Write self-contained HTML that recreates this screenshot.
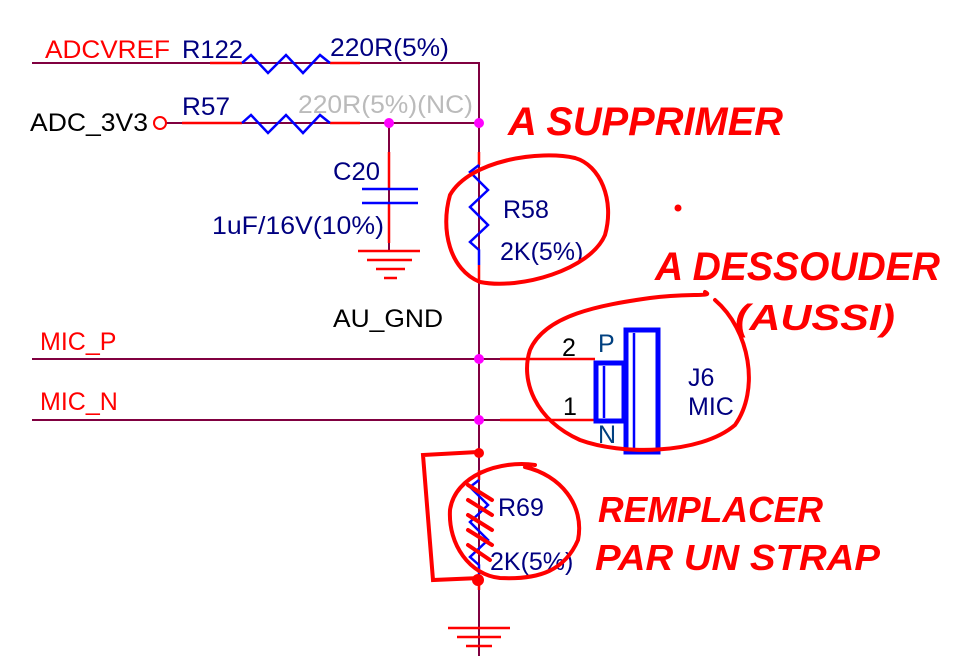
<!DOCTYPE html>
<html><head><meta charset="utf-8"><style>
body{margin:0;background:#fff;width:959px;height:656px;overflow:hidden}
svg{display:block}
text{font-family:"Liberation Sans",sans-serif}
.h{font-family:"Liberation Sans",sans-serif;font-weight:bold;fill:#f00;font-style:italic}
</style></head><body>
<svg width="959" height="656" viewBox="0 0 959 656">
<g stroke="#800040" stroke-width="2" fill="none">
<path d="M32 63H479V656"/>
<path d="M166 123H479"/>
<path d="M389 123V251"/>
<path d="M32 359H595"/>
<path d="M32 420H595"/>
</g>
<g stroke="#f00" stroke-width="2.5" fill="none">
<path d="M210 63H242M330 63H360"/><path d="M182 123H242M330 123H360"/>
<path d="M389 152V189M389 203V243"/>
<path d="M479 152V165M479 265V282"/>
<path d="M479 470V480M479 580V590"/>
<path d="M500 359H595M500 420H595"/>
<path d="M358 251H420M367 260H412M376 269H405M384 278H397"/>
<path d="M448 628H510M457 637H501M466 646H492"/>
</g>
<circle cx="160" cy="123" r="6" fill="none" stroke="#f00" stroke-width="2"/>
<g stroke="#00f" stroke-width="2.5" fill="none">
<path d="M242 63L251 55L268 73L286 55L303 73L320 55L330 63"/>
<path d="M242 123L251 115L268 133L286 115L303 133L320 115L330 123"/>
<path d="M362 189H418M362 203H418"/>
<path d="M479 165L470 172L488 190L470 207L488 225L470 242L479 250V265"/>
<path d="M479 480L470 487L488 505L470 522L488 540L470 557L479 565V580"/>
<rect x="626" y="330" width="32" height="122" stroke-width="5"/>
<rect x="596" y="363" width="28" height="58" stroke-width="5"/>
<path d="M604 366V418M634 333V449"/>
</g>
<g fill="#f0f"><circle cx="389" cy="123" r="5"/><circle cx="479" cy="123" r="5"/><circle cx="479" cy="359" r="5"/><circle cx="479" cy="420" r="5"/></g>
<g font-size="25">
<text x="45" y="58" fill="#f00" textLength="125" lengthAdjust="spacingAndGlyphs">ADCVREF</text>
<text x="182" y="58" fill="#000080" textLength="61" lengthAdjust="spacingAndGlyphs">R122</text>
<text x="330" y="56" fill="#000080" textLength="119" lengthAdjust="spacingAndGlyphs">220R(5%)</text>
<text x="30" y="131" fill="#000" textLength="118" lengthAdjust="spacingAndGlyphs">ADC_3V3</text>
<text x="182" y="115" fill="#000080" textLength="48" lengthAdjust="spacingAndGlyphs">R57</text>
<text x="298" y="113" fill="#bbb" textLength="175" lengthAdjust="spacingAndGlyphs">220R(5%)(NC)</text>
<text x="333" y="180" fill="#000080" textLength="47" lengthAdjust="spacingAndGlyphs">C20</text>
<text x="212" y="234" fill="#000080" textLength="172" lengthAdjust="spacingAndGlyphs">1uF/16V(10%)</text>
<text x="333" y="327" fill="#000" textLength="110" lengthAdjust="spacingAndGlyphs">AU_GND</text>
<text x="503" y="218" fill="#000080">R58</text>
<text x="500" y="260" fill="#000080">2K(5%)</text>
<text x="40" y="350" fill="#f00">MIC_P</text>
<text x="40" y="410" fill="#f00">MIC_N</text>
<text x="562" y="356" fill="#000">2</text>
<text x="563" y="415" fill="#000">1</text>
<text x="598" y="352" fill="#004080">P</text>
<text x="598" y="443" fill="#004080">N</text>
<text x="688" y="386" fill="#000080">J6</text>
<text x="688" y="415" fill="#000080">MIC</text>
<text x="498" y="516" fill="#000080">R69</text>
<text x="490" y="570" fill="#000080">2K(5%)</text>
</g>
<g stroke="#f00" stroke-width="4" fill="none" stroke-linecap="round">
<path d="M575 158C540 150 470 160 450 195C440 230 450 270 480 282C520 290 590 270 605 235C615 200 600 165 575 158"/>
<path d="M715 300C750 330 760 390 735 425C700 455 620 455 580 440C535 420 520 380 530 350C545 315 600 305 650 298C690 293 715 297 705 292"/>
<path d="M535 465C500 460 455 475 450 510C448 545 470 575 500 578C540 580 565 570 578 540C585 505 560 475 525 467"/>
<path d="M478 452L423 455L433 580L480 578"/>
<path d="M468 485L492 500M468 500L492 515M468 515L492 530M468 530L492 545M468 545L490 560"/>
<circle cx="479" cy="453" r="3" fill="#f00"/><circle cx="478" cy="580" r="4" fill="#f00"/>
</g>
<circle cx="678" cy="208" r="3.5" fill="#f00"/>
<text class="h" x="508" y="135" font-size="40" textLength="275" lengthAdjust="spacingAndGlyphs">A SUPPRIMER</text>
<text class="h" x="655" y="280" font-size="40" textLength="285" lengthAdjust="spacingAndGlyphs">A DESSOUDER</text>
<text class="h" x="735" y="330" font-size="36" textLength="160" lengthAdjust="spacingAndGlyphs">(AUSSI)</text>
<text class="h" x="598" y="522" font-size="36" textLength="225" lengthAdjust="spacingAndGlyphs">REMPLACER</text>
<text class="h" x="595" y="570" font-size="36" textLength="285" lengthAdjust="spacingAndGlyphs">PAR UN STRAP</text>
</svg>
</body></html>
